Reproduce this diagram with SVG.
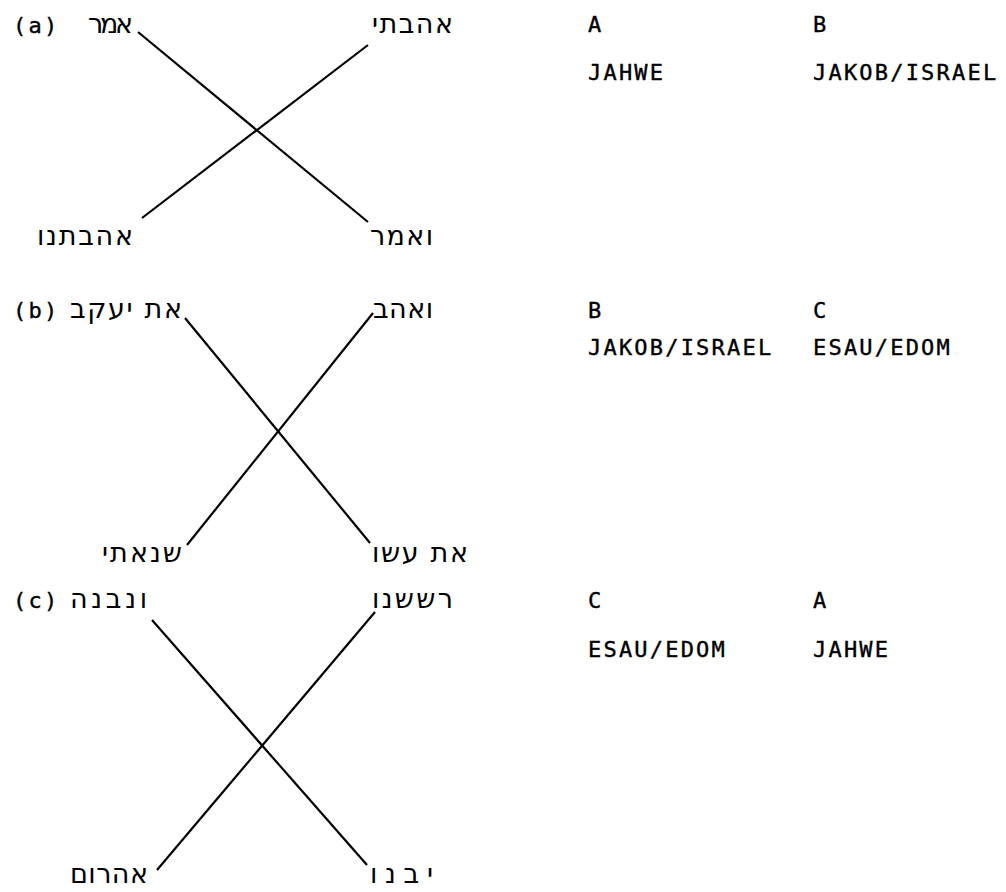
<svg xmlns="http://www.w3.org/2000/svg" width="1006" height="892" viewBox="0 0 1006 892">
<style>
.lat{font-family:"DejaVu Sans Mono","Liberation Mono",monospace;font-size:22px;letter-spacing:2.2px;fill:#000;stroke:#000;stroke-width:0.4}
.heb{font-family:"DejaVu Sans","Liberation Sans",sans-serif;font-size:27px;fill:#000}
.ln{stroke:#000;stroke-width:2.2;fill:none;stroke-linecap:butt}
</style>
<rect width="1006" height="892" fill="#fff"/>
<g id="connectors">
<line class="ln" x1="138" y1="32" x2="368" y2="222"/>
<line class="ln" x1="368" y1="45" x2="142" y2="218"/>
<line class="ln" x1="185" y1="318" x2="370" y2="543"/>
<line class="ln" x1="373" y1="313" x2="187" y2="545"/>
<line class="ln" x1="152" y1="620" x2="367" y2="865"/>
<line class="ln" x1="375" y1="612" x2="157" y2="870"/>
</g>
<g id="panel-a">
<text class="lat" x="13" y="33">(a)</text>
<g id="a-amar"><text class="heb" x="88" y="33" textLength="45" lengthAdjust="spacing">אמר</text></g>
<g id="a-ahavti"><text class="heb" x="372" y="33" textLength="81" lengthAdjust="spacing">אהבתי</text></g>
<g id="a-ahavtanu"><text class="heb" x="37" y="245" textLength="96" lengthAdjust="spacing">אהבתנו</text></g>
<g id="a-veamar"><text class="heb" x="370" y="245" textLength="63" lengthAdjust="spacing">ואמר</text></g>
</g>
<g id="panel-b">
<text class="lat" x="13" y="318">(b)</text>
<g id="b-et-yaakov"><text class="heb" x="70" y="318" textLength="112" lengthAdjust="spacing">את יעקב</text></g>
<g id="b-vaohav"><text class="heb" x="373" y="318" textLength="60" lengthAdjust="spacing">ואהב</text></g>
<g id="b-saneti"><text class="heb" x="102" y="562" textLength="80" lengthAdjust="spacing">שנאתי</text></g>
<g id="b-et-esav"><text class="heb" x="372" y="562" textLength="96" lengthAdjust="spacing">את עשו</text></g>
</g>
<g id="panel-c">
<text class="lat" x="13" y="608">(c)</text>
<g id="c-venivne"><text class="heb" x="70" y="608" textLength="77" lengthAdjust="spacing">ונבנה</text></g>
<g id="c-rushashnu"><text class="heb" x="372" y="608" textLength="81" lengthAdjust="spacing">רששנו</text></g>
<g id="c-ehros"><text class="heb" x="70" y="883" textLength="78" lengthAdjust="spacing">אהרום</text></g>
<g id="c-yivnu"><text class="heb" x="370" y="883" textLength="63" lengthAdjust="spacing">יבנו</text></g>
</g>
<g id="legend-a">
<text class="lat" x="588" y="32">A</text>
<text class="lat" x="813" y="32">B</text>
<text class="lat" x="588" y="80">JAHWE</text>
<text class="lat" x="813" y="80">JAKOB/ISRAEL</text>
</g>
<g id="legend-b">
<text class="lat" x="588" y="318">B</text>
<text class="lat" x="813" y="318">C</text>
<text class="lat" x="588" y="355">JAKOB/ISRAEL</text>
<text class="lat" x="813" y="355">ESAU/EDOM</text>
</g>
<g id="legend-c">
<text class="lat" x="588" y="608">C</text>
<text class="lat" x="813" y="608">A</text>
<text class="lat" x="588" y="657">ESAU/EDOM</text>
<text class="lat" x="813" y="657">JAHWE</text>
</g>
</svg>
